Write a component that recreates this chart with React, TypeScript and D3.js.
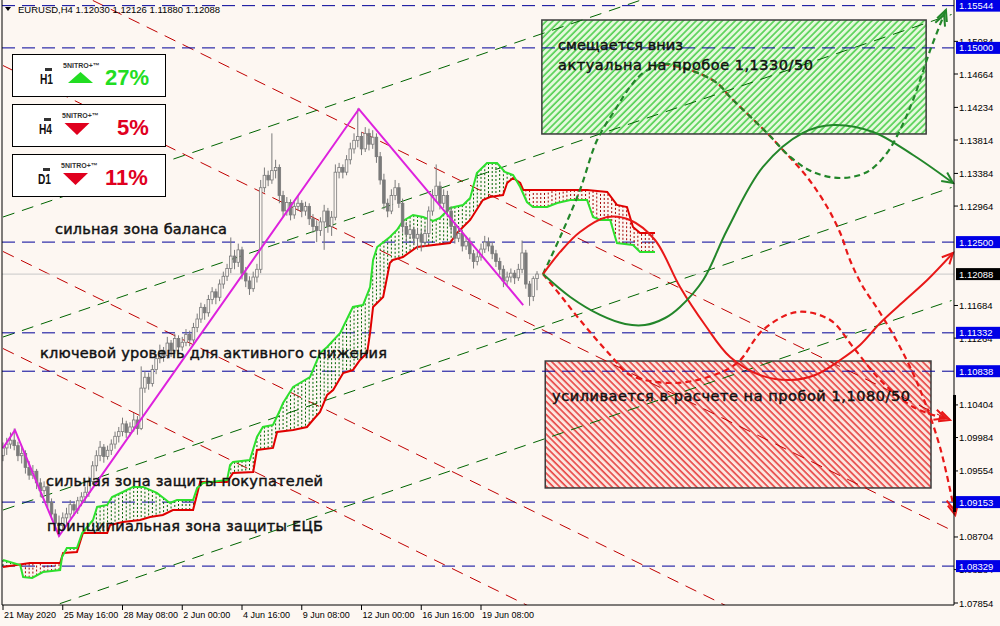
import React from 'react';
import * as d3 from 'd3';

const W = 1000;
const H = 626;
const BG = '#fdf7f2';

// ---------- data ----------
const title = 'EURUSD,H4  1.12030 1.12126 1.11880 1.12088';

// [open, high, low, close] per H4 bar
const candles: [number, number, number, number][] = [
  [1.0975,1.0992,1.0968,1.0985],[1.0985,1.0998,1.0976,1.0990],[1.0990,1.1005,1.0984,1.0995],[1.0995,1.1010,1.0982,1.0988],
  [1.0988,1.0993,1.0968,1.0975],[1.0975,1.0986,1.0965,1.0978],[1.0978,1.0982,1.0952,1.0960],[1.0960,1.0968,1.0944,1.0950],
  [1.0950,1.0963,1.0945,1.0955],[1.0955,1.0958,1.0932,1.0940],[1.0940,1.0946,1.0922,1.0930],[1.0930,1.0942,1.0925,1.0935],
  [1.0935,1.0938,1.0908,1.0915],[1.0915,1.0920,1.0893,1.0900],[1.0900,1.0906,1.0880,1.0888],[1.0888,1.0898,1.0871,1.0885],
  [1.0885,1.0902,1.0878,1.0895],[1.0895,1.0908,1.0886,1.0900],[1.0900,1.0918,1.0894,1.0912],[1.0912,1.0916,1.0898,1.0905],
  [1.0905,1.0922,1.0900,1.0917],[1.0917,1.0928,1.0910,1.0922],[1.0922,1.0935,1.0915,1.0928],[1.0928,1.0948,1.0922,1.0942],
  [1.0942,1.0968,1.0938,1.0962],[1.0962,1.0982,1.0955,1.0975],[1.0975,1.0994,1.0968,1.0986],[1.0986,1.0990,1.0966,1.0974],
  [1.0974,1.0988,1.0970,1.0982],[1.0982,1.0996,1.0976,1.0990],[1.0990,1.1006,1.0984,1.1000],[1.1000,1.1012,1.0992,1.1006],
  [1.1006,1.1024,1.1000,1.1016],[1.1016,1.1020,1.0998,1.1005],[1.1005,1.1018,1.1000,1.1012],[1.1012,1.1030,1.1006,1.1021],
  [1.1021,1.1026,1.1002,1.1010],[1.1010,1.1090,1.1008,1.1062],[1.1062,1.1084,1.1056,1.1076],[1.1076,1.1082,1.1060,1.1068],
  [1.1068,1.1092,1.1064,1.1086],[1.1086,1.1106,1.1080,1.1100],[1.1100,1.1118,1.1094,1.1110],[1.1110,1.1115,1.1096,1.1104],
  [1.1104,1.1128,1.1100,1.1120],[1.1120,1.1124,1.1102,1.1110],[1.1110,1.1132,1.1106,1.1126],[1.1126,1.1130,1.1108,1.1115],
  [1.1115,1.1128,1.1110,1.1121],[1.1121,1.1138,1.1116,1.1131],[1.1131,1.1136,1.1116,1.1124],[1.1124,1.1146,1.1120,1.1140],
  [1.1140,1.1158,1.1134,1.1151],[1.1151,1.1172,1.1146,1.1166],[1.1166,1.1170,1.1150,1.1159],[1.1159,1.1182,1.1154,1.1176],
  [1.1176,1.1192,1.1170,1.1186],[1.1186,1.1190,1.1170,1.1179],[1.1179,1.1202,1.1174,1.1196],[1.1196,1.1212,1.1190,1.1206],
  [1.1206,1.1222,1.1200,1.1216],[1.1216,1.1256,1.1210,1.1232],[1.1232,1.1240,1.1215,1.1224],[1.1224,1.1248,1.1218,1.1240],
  [1.1240,1.1244,1.1202,1.1210],[1.1210,1.1218,1.1192,1.1200],[1.1200,1.1206,1.1182,1.1190],[1.1190,1.1212,1.1186,1.1205],
  [1.1205,1.1222,1.1198,1.1215],[1.1215,1.1330,1.1210,1.1320],[1.1320,1.1346,1.1314,1.1336],[1.1336,1.1342,1.1322,1.1330],
  [1.1330,1.1390,1.1325,1.1342],[1.1342,1.1356,1.1332,1.1346],[1.1346,1.1350,1.1300,1.1310],[1.1310,1.1316,1.1282,1.1290],
  [1.1290,1.1308,1.1284,1.1301],[1.1301,1.1305,1.1278,1.1285],[1.1285,1.1302,1.1280,1.1296],[1.1296,1.1310,1.1290,1.1300],
  [1.1300,1.1304,1.1282,1.1290],[1.1290,1.1302,1.1284,1.1296],[1.1296,1.1300,1.1272,1.1280],[1.1280,1.1286,1.1262,1.1270],
  [1.1270,1.1278,1.1250,1.1265],[1.1265,1.1282,1.1258,1.1276],[1.1276,1.1298,1.1240,1.1290],[1.1290,1.1294,1.1262,1.1270],
  [1.1270,1.1290,1.1258,1.1282],[1.1282,1.1350,1.1278,1.1340],[1.1340,1.1352,1.1332,1.1346],[1.1346,1.1350,1.1332,1.1340],
  [1.1340,1.1362,1.1336,1.1356],[1.1356,1.1378,1.1350,1.1370],[1.1370,1.1390,1.1364,1.1381],[1.1381,1.1422,1.1372,1.1386],
  [1.1386,1.1392,1.1362,1.1370],[1.1370,1.1398,1.1366,1.1390],[1.1390,1.1396,1.1368,1.1376],[1.1376,1.1394,1.1370,1.1385],
  [1.1385,1.1390,1.1352,1.1360],[1.1360,1.1366,1.1324,1.1330],[1.1330,1.1338,1.1292,1.1300],[1.1300,1.1306,1.1282,1.1290],
  [1.1290,1.1318,1.1286,1.1310],[1.1310,1.1330,1.1304,1.1320],[1.1320,1.1326,1.1294,1.1300],[1.1300,1.1306,1.1262,1.1270],
  [1.1270,1.1276,1.1250,1.1260],[1.1260,1.1274,1.1254,1.1266],[1.1266,1.1270,1.1246,1.1255],[1.1255,1.1268,1.1240,1.1260],
  [1.1260,1.1266,1.1238,1.1250],[1.1250,1.1268,1.1244,1.1261],[1.1261,1.1296,1.1256,1.1290],[1.1290,1.1318,1.1284,1.1310],
  [1.1310,1.1350,1.1302,1.1322],[1.1322,1.1328,1.1292,1.1300],[1.1300,1.1318,1.1294,1.1310],[1.1310,1.1316,1.1282,1.1290],
  [1.1290,1.1296,1.1262,1.1270],[1.1270,1.1276,1.1248,1.1255],[1.1255,1.1268,1.1250,1.1261],[1.1261,1.1266,1.1238,1.1245],
  [1.1245,1.1258,1.1240,1.1251],[1.1251,1.1256,1.1228,1.1235],[1.1235,1.1240,1.1216,1.1225],[1.1225,1.1238,1.1220,1.1231],
  [1.1231,1.1248,1.1226,1.1241],[1.1241,1.1258,1.1236,1.1250],[1.1250,1.1256,1.1238,1.1245],[1.1245,1.1250,1.1228,1.1235],
  [1.1235,1.1240,1.1218,1.1225],[1.1225,1.1230,1.1208,1.1215],[1.1215,1.1220,1.1192,1.1200],[1.1200,1.1212,1.1195,1.1205],
  [1.1205,1.1216,1.1198,1.1210],[1.1210,1.1214,1.1196,1.1204],[1.1204,1.1222,1.1200,1.1215],[1.1215,1.1252,1.1210,1.1236],
  [1.1236,1.1240,1.1190,1.1196],[1.1196,1.1200,1.1168,1.1180],[1.1180,1.1206,1.1174,1.1203],[1.12030,1.12126,1.11880,1.12088],
];

// Ichimoku cloud spans: [bar, price]
const spanA: [number, number][] = [
  [0,1.08408],[4.6,1.08343],[5.4,1.08189],[7.8,1.08176],[10.7,1.08253],[15.3,1.08279],[15.8,1.08446],[17.1,1.08562],
  [19.8,1.08562],[21.2,1.08755],[24.1,1.08923],[25.2,1.0909],[27.9,1.09116],[29.2,1.09219],[32.1,1.09283],[34.8,1.09348],
  [37.5,1.09348],[41.2,1.09271],[44.7,1.09142],[46.6,1.0918],[50.9,1.0918],[52.0,1.09335],[53.6,1.09399],[60.0,1.09438],
  [60.8,1.09631],[61.6,1.09669],[66.1,1.09695],[68.0,1.09991],[69.6,1.1012],[72.3,1.10146],[74.2,1.10339],[75.0,1.10429],
  [77.7,1.10635],[79.5,1.10686],[82.2,1.10763],[84.9,1.11072],[86.8,1.1115],[90.3,1.1133],[92.9,1.11587],[93.7,1.11665],
  [96.4,1.1169],[98.3,1.11922],[99.1,1.1227],[100.2,1.12437],[103.6,1.12566],[105.5,1.12656],[107.1,1.12772],[109.8,1.12849],
  [112.5,1.12823],[115.2,1.12772],[117.0,1.1281],[119.7,1.12939],[123.2,1.12978],[125.1,1.13068],[126.9,1.1339],[129.6,1.13518],
  [132.3,1.13518],[134.4,1.13403],[136.6,1.13364],[138.5,1.13209],[140.3,1.13016],[141.9,1.12952],[145.7,1.12952],[148.4,1.13003],
  [151.9,1.13042],[156.4,1.13042],[158.0,1.12823],[159.9,1.12785],[162.6,1.12785],[164.4,1.12488],[168.7,1.12463],[170.6,1.12373],
  [174.6,1.12373],
];
const spanB: [number, number][] = [
  [0,1.08317],[7.2,1.08369],[15.3,1.08369],[16.1,1.08497],[19.8,1.0851],[21.4,1.08755],[27.9,1.08755],[28.7,1.08858],
  [32.1,1.08897],[36.7,1.08923],[39.4,1.08961],[42.8,1.08987],[45.5,1.09051],[50.9,1.09051],[52.8,1.09412],[60.0,1.09412],
  [61.6,1.09528],[67.0,1.09541],[68.0,1.09824],[72.3,1.0985],[73.4,1.10056],[77.7,1.10081],[81.4,1.1012],[83.0,1.1021],
  [84.9,1.10313],[86.8,1.10532],[88.4,1.10596],[91.1,1.10815],[93.7,1.10853],[95.6,1.10982],[97.5,1.11072],[98.3,1.1133],
  [99.1,1.11665],[101.8,1.11793],[103.6,1.12231],[104.4,1.1227],[107.1,1.12308],[110.9,1.12437],[119.7,1.12488],[121.6,1.12617],
  [125.1,1.12785],[128.5,1.13042],[130.4,1.13081],[133.9,1.13106],[135.0,1.13261],[136.6,1.13325],[138.5,1.13261],[139.3,1.13171],
  [151.0,1.13171],[156.4,1.13171],[161.8,1.13145],[164.4,1.12978],[167.1,1.12952],[168.7,1.12694],[170.6,1.12617],[174.6,1.12617],
];

const levels = [1.15544, 1.15, 1.125, 1.11332, 1.10838, 1.09153, 1.08329];
const currentPrice = 1.12088;
const yTicks = [1.15084,1.14664,1.14234,1.13814,1.13384,1.12964,1.11684,1.11264,1.10404,1.09984,1.09554,1.08704,1.08284,1.07854];
const xLabels = ['21 May 2020','25 May 16:00','28 May 08:00','2 Jun 00:00','4 Jun 16:00','9 Jun 08:00','12 Jun 00:00','16 Jun 16:00','19 Jun 08:00'];
const xLabelBars = [0,16,32,48,64,80,96,112,128];

const zigzag: [number, number][] = [[0,1.0985],[3.2,1.1008],[15,1.08717],[95.3,1.14213],[139.3,1.1169]];

const greenChannels: [number, number][][] = [
  [[0,1.07597],[254,1.11748]],
  [[0,1.09051],[254,1.13203]],
  [[0,1.11278],[254,1.1543]],
  [[0,1.12823],[254,1.16975]],
];
const redChannels: [number, number][][] = [
  [[0,1.16177],[254,1.10195]],
  [[0,1.14773],[254,1.08791]],
  [[0,1.12379],[254,1.06397]],
  [[0,1.1113],[254,1.05148]],
];

const greenBox = { b0: 144.3, b1: 247.2, top: 1.15359, bottom: 1.13892 };
const redBox = { b0: 145.2, b1: 248.5, top: 1.10969, bottom: 1.09335 };
const sideBar = [1.10532, 1.09026];

// forecast paths [bar, price]
const greenSolid: [number, number][] = [[144.6,1.12088],[151.9,1.11793],[159.9,1.11562],[166.6,1.11446],[171.9,1.11433],[177.3,1.11523],[181.3,1.11665],[187.5,1.12012],[193.9,1.12656],[203.5,1.13467],[214.2,1.13905],[222.3,1.14007],[233.0,1.13917],[243.7,1.13621],[254.4,1.13261]];
const greenDashed: [number, number][] = [[144.6,1.12088],[149.2,1.12566],[154.5,1.13171],[159.1,1.13814],[164.4,1.14239],[167.9,1.14497],[171.4,1.14677],[176.8,1.14793],[184.0,1.14715],[191.2,1.14548],[194.7,1.14368],[204.6,1.13905],[210.8,1.13596],[216.9,1.13403],[224.2,1.13325],[231.4,1.13403],[236.7,1.13647],[240.2,1.13943],[243.7,1.14329],[248.3,1.14973],[252.5,1.15488]];
const redDashedHigh: [number, number][] = [[176.8,1.14793],[184.0,1.14715],[191.2,1.14548],[194.7,1.14368],[204.6,1.13905],[208.1,1.13724],[215.3,1.13338],[220.7,1.12952],[224.2,1.12617],[226.8,1.1227],[230.0,1.11948],[234.9,1.11587],[240.2,1.1115],[245.6,1.10596],[250.9,1.09862],[255.0,1.08987]];
const redDashedLow: [number, number][] = [[144.6,1.12088],[149.2,1.11819],[154.5,1.11497],[162.6,1.11047],[167.9,1.10789],[178.6,1.10686],[188.0,1.10751],[196.6,1.10944],[203.5,1.11369],[212.6,1.116],[221.5,1.11497],[227.6,1.1115],[234.9,1.10725],[243.7,1.10377],[253.6,1.1021]];
const redSolid: [number, number][] = [[144.6,1.12088],[149.2,1.12373],[154.5,1.1263],[161.8,1.12823],[167.9,1.12785],[174.6,1.12527],[181.3,1.11922],[188.0,1.11433],[194.7,1.11021],[202.7,1.10789],[210.8,1.10725],[217.5,1.10789],[224.2,1.10982],[229.5,1.11175],[234.9,1.11459],[241.6,1.11755],[247.5,1.12012],[254.4,1.1236]];

const panels = [
  { tf: 'H1', pct: '27%', up: true },
  { tf: 'H4', pct: '5%', up: false },
  { tf: 'D1', pct: '11%', up: false },
];

// ---------- scales ----------
const xs = d3.scaleLinear().domain([0, 16]).range([3, 62.75]);
const ys = d3.scaleLinear().domain([1.07854, 1.14664]).range([603, 74]);

const PLOT_R = 954;
const PLOT_B = 605;

const line = d3.line<[number, number]>().x(d => xs(d[0])).y(d => ys(d[1]));
const curve = d3.line<[number, number]>().x(d => xs(d[0])).y(d => ys(d[1])).curve(d3.curveCatmullRom.alpha(0.5));

function interp(pts: [number, number][], b: number): number | null {
  if (b < pts[0][0] || b > pts[pts.length - 1][0]) return null;
  for (let k = 1; k < pts.length; k++) {
    if (b <= pts[k][0]) {
      const [x0, y0] = pts[k - 1];
      const [x1, y1] = pts[k];
      return x1 === x0 ? y1 : y0 + ((y1 - y0) * (b - x0)) / (x1 - x0);
    }
  }
  return null;
}

function arrowHead(pts: [number, number][], color: string, double: boolean) {
  const a = pts[pts.length - 2];
  const b = pts[pts.length - 1];
  const x1 = xs(a[0]), y1 = ys(a[1]), x2 = xs(b[0]), y2 = ys(b[1]);
  const ang = Math.atan2(y2 - y1, x2 - x1);
  const len = 12, s = 0.45;
  const mk = (tx: number, ty: number) =>
    `M${tx - len * Math.cos(ang - s)},${ty - len * Math.sin(ang - s)}L${tx},${ty}L${tx - len * Math.cos(ang + s)},${ty - len * Math.sin(ang + s)}`;
  let d = mk(x2, y2);
  if (double) d += mk(x2 - 5 * Math.cos(ang), y2 - 5 * Math.sin(ang));
  return <path d={d} fill="none" stroke={color} strokeWidth={2} />;
}

export default function App() {
  const hatchBars = d3.range(0, 175);
  const fontAnn = '"DejaVu Sans", sans-serif';
  const fontAx = '"Liberation Sans", Arial, sans-serif';

  const annotations = [
    { t: 'сильная зона баланса', x: 55, y: 234, l: 172 },
    { t: 'ключевой уровень для активного снижения', x: 40, y: 358, l: 347 },
    { t: 'сильная зона защиты покупателей', x: 46, y: 486, l: 277 },
    { t: 'принципиальная зона защиты ЕЦБ', x: 47, y: 531, l: 276 },
    { t: 'смещается вниз', x: 558, y: 50, l: 125 },
    { t: 'актуальна на пробое 1,1330/50', x: 558, y: 70, l: 255 },
    { t: 'усиливается в расчете на пробой 1,1080/50', x: 552, y: 401, l: 358 },
  ];

  return (
    <div>
      <style>{`html,body{margin:0;padding:0;background:${BG};}`}</style>
      <svg width={W} height={H} style={{ display: 'block' }}>
        <defs>
          <clipPath id="plot">
            <rect x={2} y={0} width={PLOT_R - 2} height={PLOT_B} />
          </clipPath>
          <pattern id="gHatch" patternUnits="userSpaceOnUse" width={4.6} height={4.6} patternTransform="rotate(45)">
            <rect width={4.6} height={4.6} fill="#e6f9dd" />
            <line x1={1} y1={0} x2={1} y2={4.6} stroke="#4fcf4f" strokeWidth={1.6} />
          </pattern>
          <pattern id="rHatch" patternUnits="userSpaceOnUse" width={4.6} height={4.6} patternTransform="rotate(-45)">
            <rect width={4.6} height={4.6} fill="#fbe6df" />
            <line x1={1} y1={0} x2={1} y2={4.6} stroke="#e52a2a" strokeWidth={1.4} />
          </pattern>
        </defs>
        <rect width={W} height={H} fill={BG} />

        <g clipPath="url(#plot)">
          {/* boxes */}
          <rect x={xs(greenBox.b0)} y={ys(greenBox.top)} width={xs(greenBox.b1) - xs(greenBox.b0)} height={ys(greenBox.bottom) - ys(greenBox.top)} fill="url(#gHatch)" stroke="#3a3a3a" strokeWidth={1.5} />
          <rect x={xs(redBox.b0)} y={ys(redBox.top)} width={xs(redBox.b1) - xs(redBox.b0)} height={ys(redBox.bottom) - ys(redBox.top)} fill="url(#rHatch)" stroke="#3a3a3a" strokeWidth={1.5} />

          {/* channel lines */}
          {redChannels.map((c, k) => (
            <path key={'rc' + k} d={line(c) || ''} stroke="#c00000" strokeWidth={1} strokeDasharray="12,8" fill="none" />
          ))}
          {greenChannels.map((c, k) => (
            <path key={'gc' + k} d={line(c) || ''} stroke="#006400" strokeWidth={1} strokeDasharray="12,8" fill="none" />
          ))}

          {/* levels */}
          <line x1={2} x2={PLOT_R} y1={ys(currentPrice)} y2={ys(currentPrice)} stroke="#c8c8c8" strokeWidth={1} />
          {levels.map((l, k) => (
            <line key={'lv' + k} x1={2} x2={PLOT_R} y1={ys(l)} y2={ys(l)} stroke="#000099" strokeWidth={1} strokeDasharray="13,7" />
          ))}

          {/* cloud hatching */}
          {hatchBars.map(b => {
            const a = interp(spanA, b);
            const c = interp(spanB, b);
            if (a == null || c == null) return null;
            return (
              <line key={'h' + b} x1={xs(b)} x2={xs(b)} y1={ys(a)} y2={ys(c)} stroke={a >= c ? '#006400' : '#a00000'} strokeWidth={1} strokeDasharray="2,2" />
            );
          })}
          <path d={line(spanB) || ''} stroke="#e00000" strokeWidth={2} fill="none" />
          <path d={line(spanA) || ''} stroke="#2de02d" strokeWidth={2} fill="none" />

          {/* candles */}
          {candles.map((c, i) => {
            const [o, h, l, cl] = c;
            const x = xs(i);
            const top = ys(Math.max(o, cl));
            const bot = ys(Math.min(o, cl));
            return (
              <g key={'c' + i}>
                <line x1={x} x2={x} y1={ys(h)} y2={ys(l)} stroke="#7a7a7a" strokeWidth={1} />
                <rect x={x - 1.3} y={top} width={2.6} height={Math.max(1, bot - top)} fill={cl >= o ? BG : '#7a7a7a'} stroke="#7a7a7a" strokeWidth={0.8} />
              </g>
            );
          })}

          {/* zigzag */}
          <path d={line(zigzag) || ''} stroke="#dd22dd" strokeWidth={2} fill="none" />
        </g>

        {/* forecasts */}
        <path d={curve(redDashedHigh) || ''} stroke="#e81818" strokeWidth={2.2} strokeDasharray="6,4" fill="none" />
        <path d={curve(redDashedLow) || ''} stroke="#e81818" strokeWidth={2.2} strokeDasharray="6,4" fill="none" />
        <path d={curve(greenDashed) || ''} stroke="#23862a" strokeWidth={2.2} strokeDasharray="6,4" fill="none" />
        <path d={curve(redSolid) || ''} stroke="#e81818" strokeWidth={2} fill="none" />
        <path d={curve(greenSolid) || ''} stroke="#23862a" strokeWidth={2} fill="none" />
        {arrowHead(redDashedHigh, '#e81818', true)}
        {arrowHead(redDashedLow, '#e81818', true)}
        {arrowHead(greenDashed, '#23862a', true)}
        {arrowHead(redSolid, '#e81818', false)}
        {arrowHead(greenSolid, '#23862a', false)}

        {/* annotations */}
        {annotations.map((a, k) => (
          <text key={'an' + k} x={a.x} y={a.y} fontFamily={fontAnn} fontSize={14.5} fill="#111" stroke="#111" strokeWidth={0.45} textLength={a.l} lengthAdjust="spacing">
            {a.t}
          </text>
        ))}

        {/* frame */}
        <line x1={2} x2={2} y1={0} y2={PLOT_B} stroke="#000" strokeWidth={1} />
        <line x1={2} x2={PLOT_R} y1={PLOT_B} y2={PLOT_B} stroke="#000" strokeWidth={1} />
        <line x1={PLOT_R} x2={PLOT_R} y1={0} y2={PLOT_B} stroke="#000" strokeWidth={1} />
        <rect x={PLOT_R - 1} y={ys(sideBar[0])} width={3} height={ys(sideBar[1]) - ys(sideBar[0])} fill="#000" />

        {/* y axis */}
        {yTicks.map((t, k) => (
          <g key={'yt' + k}>
            <line x1={PLOT_R} x2={PLOT_R + 4} y1={ys(t)} y2={ys(t)} stroke="#000" />
            <text x={959} y={ys(t) + 3.5} fontFamily={fontAx} fontSize={9.5} fill="#000">{t.toFixed(5)}</text>
          </g>
        ))}
        {levels.map((l, k) => (
          <g key={'ll' + k}>
            <rect x={956} y={ys(l) - 6} width={44} height={12} fill="#0000e6" />
            <text x={959} y={ys(l) + 3.5} fontFamily={fontAx} fontSize={9.5} fill="#fff">{l.toFixed(5)}</text>
          </g>
        ))}
        <rect x={956} y={ys(currentPrice) - 6} width={44} height={12} fill="#000" />
        <text x={959} y={ys(currentPrice) + 3.5} fontFamily={fontAx} fontSize={9.5} fill="#fff">{currentPrice.toFixed(5)}</text>

        {/* x axis */}
        {xLabels.map((lab, k) => (
          <g key={'xl' + k}>
            <line x1={xs(xLabelBars[k])} x2={xs(xLabelBars[k])} y1={PLOT_B} y2={PLOT_B + 5} stroke="#000" />
            <text x={xs(xLabelBars[k]) + 1} y={618} fontFamily={fontAx} fontSize={9} fill="#000">{lab}</text>
          </g>
        ))}

        {/* title */}
        <path d="M5,7 L11,7 L8,11 Z" fill="#000" />
        <text x={18} y={13} fontFamily={fontAx} fontSize={9.5} fill="#000">{title}</text>

        {/* panels */}
        {panels.map((p, k) => {
          const top = 54 + k * 50;
          const col = p.up ? '#22dd22' : '#e0001e';
          return (
            <g key={'p' + k}>
              <rect x={12.5} y={top + 0.5} width={153} height={42} fill="#fff" stroke="#000" strokeWidth={1} />
              <rect x={45 - k} y={top + 14} width={7} height={3} fill="#333" />
              <text x={40 - k} y={top + 30} fontFamily={fontAx} fontWeight="bold" fontSize={15} fill="#111" textLength={13} lengthAdjust="spacingAndGlyphs">{p.tf}</text>
              <text x={63 - k} y={top + 14} fontFamily={fontAx} fontWeight="bold" fontSize={7} fill="#333">5NITRO+™</text>
              {p.up ? (
                <path d={`M68,${top + 29} L93,${top + 29} L80.5,${top + 18} Z`} fill={col} />
              ) : (
                <path d={`M${66 - k * 1.5},${top + 19} L${91 - k * 1.5},${top + 19} L${78.5 - k * 1.5},${top + 31} Z`} fill={col} />
              )}
              <text x={p.pct.length === 2 ? 117 : 105} y={top + 31} fontFamily={fontAx} fontWeight="bold" fontSize={22} fill={col}>{p.pct}</text>
            </g>
          );
        })}
      </svg>
    </div>
  );
}
